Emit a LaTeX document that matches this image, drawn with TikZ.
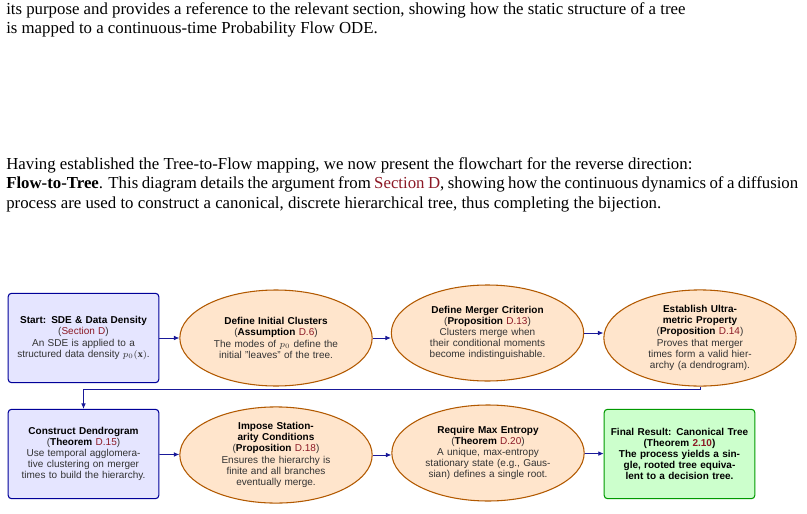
\documentclass[tikz,border=0pt]{standalone}
\usepackage{fontspec}
\setmainfont{Liberation Serif}
\setsansfont{Liberation Sans}
\usetikzlibrary{shapes.geometric,arrows.meta}
\definecolor{refred}{rgb}{0.55,0.1,0.15}
\definecolor{arr}{rgb}{0.1,0.1,0.6}
\newcommand{\rf}[1]{\textcolor{refred}{#1}}
\begin{document}
\begin{tikzpicture}[x=0.75pt,y=-0.75pt,
  txt/.style={anchor=north west,inner sep=0pt,text width=594pt,align=justify,font=\fontsize{12.6}{14.6}\selectfont},
  base/.style={font=\sffamily\fontsize{7.5}{8.4}\selectfont,align=center,text=black!80,inner sep=1pt},
  rbox/.style={base,rectangle,rounded corners=2.5pt,draw=blue!60!black,fill=blue!10,thick,minimum width=113pt,minimum height=67pt,text width=106pt},
  ell/.style={base,ellipse,draw=orange!70!black,fill=orange!20,thick,minimum width=144pt,minimum height=72pt,text width=100pt},
  gbox/.style={base,rectangle,rounded corners=2.5pt,draw=green!60!black,fill=green!20,thick,minimum width=113pt,minimum height=67pt,text width=108pt,text=black},
  con/.style={-{Latex[length=4pt,width=3.5pt]},draw=arr,semithick}]
\useasboundingbox (0,0) rectangle (807,514);
\node[txt] (p1) at (6,2) {its purpose and provides a reference to the relevant section, showing how the static structure of a tree\\is mapped to a continuous-time Probability Flow ODE.};
\node[txt] (p2) at (6,157) {Having established the Tree-to-Flow mapping, we now present the flowchart for the reverse direction:\\\textbf{Flow-to-Tree}. This diagram details the argument from \rf{Section D}, showing how the continuous dynamics of a diffusion process are used to construct a canonical, discrete hierarchical tree, thus completing the bijection.};
\node[rbox] (a) at (83.5,338) {\textbf{\textcolor{black}{Start: SDE \& Data Density}}\\(\rf{Section D})\\An SDE is applied to a structured data density $p_0(\mathbf{x})$.};
\node[ell] (b) at (276,338) {\textbf{\textcolor{black}{Define Initial Clusters}}\\(\textbf{\textcolor{black}{Assumption}} \rf{D.6})\\The modes of $p_0$ define the initial "leaves" of the tree.};
\node[ell] (c) at (487.5,333) {\textbf{\textcolor{black}{Define Merger Criterion}}\\(\textbf{\textcolor{black}{Proposition}} \rf{D.13})\\Clusters merge when their conditional moments become indistinguishable.};
\node[ell] (d) at (700,338) {\textbf{\textcolor{black}{Establish Ultra-\\metric Property}}\\(\textbf{\textcolor{black}{Proposition}} \rf{D.14})\\Proves that merger\\times form a valid hier-\\archy (a dendrogram).};
\node[rbox] (e) at (83.5,454) {\textbf{\textcolor{black}{Construct Dendrogram}}\\(\textbf{\textcolor{black}{Theorem}} \rf{D.15})\\Use temporal agglomera-\\tive clustering on merger times to build the hierarchy.};
\node[ell] (f) at (276,455) {\textbf{\textcolor{black}{Impose Station-\\arity Conditions}}\\(\textbf{\textcolor{black}{Proposition}} \rf{D.18})\\Ensures the hierarchy is finite and all branches eventually merge.};
\node[ell] (g) at (488,453) {\textbf{\textcolor{black}{Require Max Entropy}}\\(\textbf{\textcolor{black}{Theorem}} \rf{D.20})\\A unique, max-entropy\\stationary state (e.g., Gaus-\\sian) defines a single root.};
\node[gbox] (h) at (679.5,454) {\textbf{Final Result: Canonical Tree}\\\textbf{(Theorem \rf{2.10})}\\\textbf{The process yields a sin-\\gle, rooted tree equiva-\\lent to a decision tree.}};
\draw[con] (a) -- (b);
\draw[con] (b) -- (b -| c.west);
\draw[con] (c) -- (c -| d.west);
\draw[con] (d.south) -- ++(0,3) -| (e.north);
\draw[con] (e) -- (f);
\draw[con] (f) -- (f -| g.west);
\draw[con] (g) -- (h);
\end{tikzpicture}
\end{document}
